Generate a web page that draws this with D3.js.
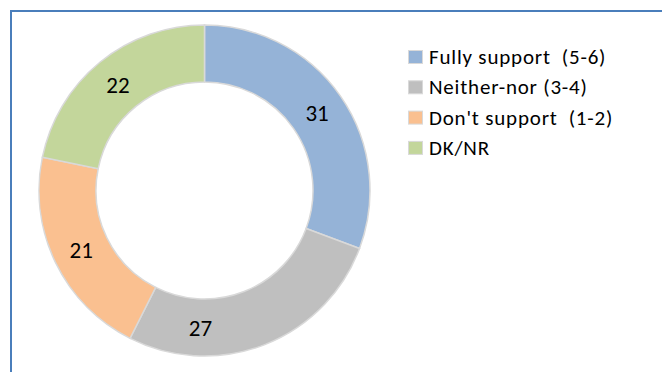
<!DOCTYPE html>
<html>
<head>
<meta charset="utf-8">
<script src="https://cdn.jsdelivr.net/npm/d3@7"></script>
<style>
  html, body { margin: 0; padding: 0; background: #fff; }
  svg { display: block; }
</style>
</head>
<body>
<svg id="chart" width="662" height="372"></svg>
<script>
// Survey responses, drawn clockwise from 12 o'clock
const categories = ["Fully support  (5-6)", "Neither-nor (3-4)", "Don't support  (1-2)", "DK/NR"];
const values = [31, 27, 21, 22];
const colors = ["#95b3d7", "#bfbfbf", "#fac090", "#c3d69b"];

const W = 662, H = 372;
const svg = d3.select("#chart");
const font = "Calibri, Carlito, Lato, sans-serif";

// chart area frame
svg.append("rect")
  .attr("x", 11).attr("y", 11)
  .attr("width", W + 20).attr("height", H + 20)
  .attr("fill", "#fff")
  .attr("stroke", "#4a7ebb")
  .attr("stroke-width", 2);

const cx = 204.5, cy = 190.5;
const outerR = 165.5, innerR = 108.5;

const pie = d3.pie().sort(null).value(d => d.v);
const arcs = pie(values.map((v, i) => ({ v, i })));
const arc = d3.arc().innerRadius(innerR).outerRadius(outerR);

const g = svg.append("g").attr("transform", `translate(${cx},${cy})`);

g.selectAll("path.slice")
  .data(arcs)
  .join("path")
  .attr("class", "slice")
  .attr("d", arc)
  .attr("fill", d => colors[d.data.i])
  .attr("stroke", "#d9d9d9")
  .attr("stroke-width", 1.5);

// where along each slice its value label sits (0 = start, 1 = end)
const labelAlong = [0.5, 0.74, 0.5, 0.5];
const midR = (innerR + outerR) / 2;
g.selectAll("text.val")
  .data(arcs)
  .join("text")
  .attr("class", "val")
  .attr("transform", d => {
    const a = d.startAngle + (d.endAngle - d.startAngle) * labelAlong[d.data.i];
    return `translate(${midR * Math.sin(a)},${-midR * Math.cos(a)})`;
  })
  .attr("text-anchor", "middle")
  .attr("dy", "0.36em")
  .attr("font-family", font)
  .attr("font-size", 23)
  .attr("fill", "#000")
  .text(d => d.data.v);

// legend
const legend = svg.append("g").attr("transform", "translate(408,50)");
const rowH = 30.3;
const rows = legend.selectAll("g")
  .data(categories)
  .join("g")
  .attr("transform", (d, i) => `translate(0,${i * rowH})`);

rows.append("rect")
  .attr("x", 0.5).attr("y", 0.5)
  .attr("width", 14).attr("height", 13)
  .attr("fill", (d, i) => colors[i])
  .attr("stroke", "#d9d9d9")
  .attr("stroke-width", 1);

rows.append("text")
  .attr("x", 21)
  .attr("y", 14)
  .attr("font-family", font)
  .attr("font-size", 21)
  .attr("letter-spacing", 0.8)
  .attr("fill", "#000")
  .attr("xml:space", "preserve")
  .style("white-space", "pre")
  .text(d => d);
</script>
</body>
</html>
